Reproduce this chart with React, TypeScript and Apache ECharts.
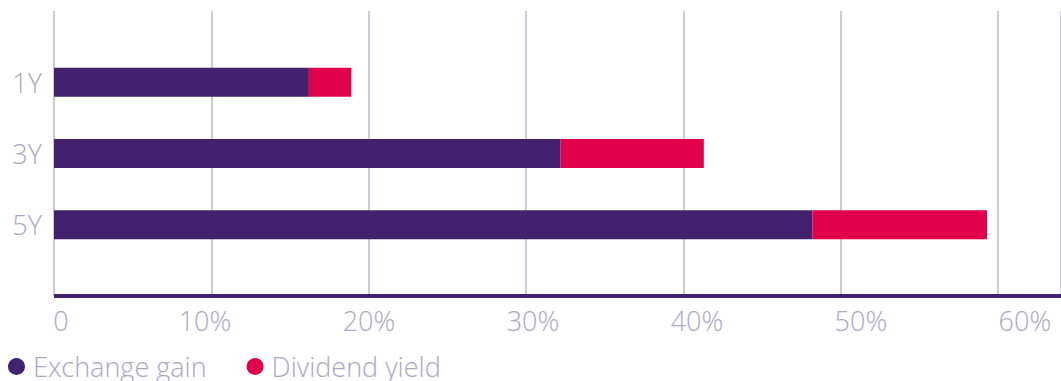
import React, { useEffect, useRef } from "react";
import * as echarts from "echarts";

const categories = ["", "1Y", "3Y", "5Y", ""];
const exchangeGain: (number | null)[] = [null, 16.2, 32.2, 48.2, null];
const dividendYield: (number | null)[] = [null, 2.7, 9.1, 11.1, null];
const seriesNames = ["Exchange gain", "Dividend yield"];
const xTicks = [0, 10, 20, 30, 40, 50, 60];

const PURPLE = "#42216f";
const RED = "#e3004b";
const TEXT = "#aba7c3";
const GRID = "#bdb9d1";
const FONT = "'Open Sans', Lato, sans-serif";
const FS = 27;

const isTick = (v: number) => xTicks.some((t) => Math.abs(t - v) < 1e-6);

export default function App() {
  const ref = useRef<HTMLDivElement>(null);
  useEffect(() => {
    if (!ref.current) return;
    const chart = echarts.init(ref.current, undefined, { renderer: "svg" });
    chart.setOption({
      animation: false,
      textStyle: { fontFamily: FONT, fontWeight: 300 },
      grid: [
        { left: 54, right: 0, top: 11, bottom: 85, containLabel: false },
        { left: 41, right: 0, top: 11, bottom: 85, containLabel: false },
      ],
      legend: {
        left: 8,
        top: 353,
        padding: 0,
        icon: "circle",
        itemWidth: 17,
        itemHeight: 17,
        itemGap: 40,
        textStyle: { fontSize: FS, color: TEXT, fontFamily: FONT, fontWeight: 300, padding: [0, 0, 0, 3] },
        data: seriesNames,
      },
      xAxis: [
        {
          type: "value",
          gridIndex: 0,
          min: xTicks[0],
          max: 64,
          interval: 10,
          axisLine: { show: false },
          axisTick: { show: false },
          splitLine: { show: true, lineStyle: { color: GRID, width: 1.5 } },
          axisLabel: { show: false },
        },
        {
          type: "value",
          gridIndex: 1,
          min: xTicks[0],
          max: 62.2,
          interval: 10,
          axisLine: { show: false },
          axisTick: { show: false },
          splitLine: { show: false },
          axisLabel: {
            show: true,
            margin: 11,
            fontSize: FS,
            color: TEXT,
            fontFamily: FONT,
            fontWeight: 300,
            showMaxLabel: false,
            formatter: (v: number) => (isTick(v) ? (Math.abs(v) < 1e-6 ? "{z|0}" : Math.round(v) + "%") : ""),
            rich: { z: { fontSize: FS, color: TEXT, fontFamily: FONT, fontWeight: 300, padding: [0, 0, 0, 40] } },
          },
        },
      ],
      yAxis: [
        {
          type: "category",
          gridIndex: 0,
          data: categories,
          inverse: true,
          boundaryGap: false,
          axisLine: { show: false },
          axisTick: { show: false },
          splitLine: { show: false },
          axisLabel: { margin: 12, fontSize: FS, color: TEXT, fontFamily: FONT, fontWeight: 300 },
        },
        {
          type: "category",
          gridIndex: 1,
          data: categories,
          inverse: true,
          boundaryGap: false,
          show: false,
        },
      ],
      series: [
        {
          name: seriesNames[0],
          type: "bar",
          stack: "total",
          barWidth: 29,
          itemStyle: { color: PURPLE },
          data: exchangeGain,
          markLine: {
            silent: true,
            symbol: "none",
            label: { show: false },
            lineStyle: { color: PURPLE, width: 4, type: "solid" },
            data: [[{ coord: [0, 4], x: 54 }, { coord: [64, 4], x: 1061 }]],
          },
        },
        {
          name: seriesNames[1],
          type: "bar",
          stack: "total",
          barWidth: 29,
          itemStyle: { color: RED },
          data: dividendYield,
        },
      ],
    });
    return () => chart.dispose();
  }, []);
  return (
    <div style={{ position: "absolute", left: 0, top: 0, width: 1061, height: 381 }}>
      <div ref={ref} style={{ width: 1061, height: 381 }} />
    </div>
  );
}
